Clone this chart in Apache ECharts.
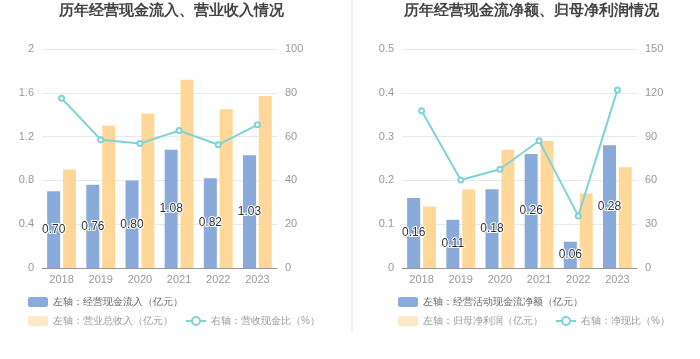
<!DOCTYPE html>
<html><head><meta charset="utf-8">
<script src="https://cdn.jsdelivr.net/npm/echarts@6/dist/echarts.min.js"></script>
<style>html,body{margin:0;padding:0;background:#fff}#c{width:700px;height:359px}</style>
</head><body><div id="c"></div>
<script>
var years = ['2018','2019','2020','2021','2022','2023'];
// chart 1
var cashInflow = [0.70, 0.76, 0.80, 1.08, 0.82, 1.03];
var revenue = [0.90, 1.30, 1.41, 1.72, 1.45, 1.57];
var cashRatio = [77.5, 58.6, 56.8, 62.8, 56.3, 65.4];
// chart 2
var netCash = [0.16, 0.11, 0.18, 0.26, 0.06, 0.28];
var netProfit = [0.14, 0.18, 0.27, 0.29, 0.17, 0.23];
var netRatio = [107.7, 60.3, 67.6, 87.2, 35.7, 122.0];

var title1 = '历年经营现金流入、营业收入情况';
var title2 = '历年经营现金流净额、归母净利润情况';
var names1 = ['左轴：经营现金流入（亿元）', '左轴：营业总收入（亿元）', '右轴：营收现金比（%）'];
var names2 = ['左轴：经营活动现金流净额（亿元）', '左轴：归母净利润（亿元）', '右轴：净现比（%）'];

var BLUE = '#8aabda', ORANGE = '#ffd899', ORANGE_L = '#ffe8c8', TEAL = '#7fd3d7';
var font = 'sans-serif';

function yAxis(grid, min, max, interval, right) {
  return {
    type: 'value', gridIndex: grid, min: min, max: max, interval: interval,
    position: right ? 'right' : 'left',
    axisLine: {show: false}, axisTick: {show: false},
    axisLabel: {color: '#999', fontSize: 11, margin: 8},
    splitLine: {show: !right, lineStyle: {color: '#e6e9f2'}}
  };
}
function xAxis(grid) {
  return {
    type: 'category', gridIndex: grid, data: years,
    axisLine: {lineStyle: {color: '#999'}},
    axisTick: {alignWithLabel: true, length: 4, lineStyle: {color: '#999'}},
    axisLabel: {color: '#999', fontSize: 11, margin: 6}
  };
}
var lbl = {show: true, position: 'inside', color: '#333', fontSize: 12,
  textBorderColor: '#fff', textBorderWidth: 2,
  formatter: function (p) { return p.value.toFixed(2); }};

function legendRows(left, names) {
  return [
    {left: left, top: 297, padding: 0, itemWidth: 20, itemHeight: 10, itemGap: 12,
     textStyle: {color: '#666', fontSize: 10},
     data: [{name: names[0], itemStyle: {color: BLUE}}]},
    {left: left, top: 316, padding: 0, itemWidth: 20, itemHeight: 10, itemGap: 12,
     textStyle: {color: '#999', fontSize: 10},
     data: [{name: names[1], itemStyle: {color: ORANGE_L}}, {name: names[2]}]}
  ];
}

var option = {
  animation: false,
  textStyle: {fontFamily: font},
  title: [
    {text: title1, left: 59, top: 3, padding: 0, textStyle: {fontSize: 15, fontWeight: 'bold', color: '#444'}},
    {text: title2, left: 404, top: 3, padding: 0, textStyle: {fontSize: 15, fontWeight: 'bold', color: '#444'}}
  ],
  graphic: [{type: 'line', shape: {x1: 352, y1: 0, x2: 352, y2: 333}, style: {stroke: '#f2f2f2', lineWidth: 2}}],
  legend: legendRows(28, names1).concat(legendRows(398, names2)),
  grid: [
    {left: 42, width: 235, top: 49, height: 219},
    {left: 402, width: 235, top: 49, height: 219}
  ],
  xAxis: [xAxis(0), xAxis(1)],
  yAxis: [yAxis(0, 0, 2, 0.4, false), yAxis(0, 0, 100, 20, true),
          yAxis(1, 0, 0.5, 0.1, false), yAxis(1, 0, 150, 30, true)],
  series: [
    {name: names1[0], type: 'bar', xAxisIndex: 0, yAxisIndex: 0, data: cashInflow, barWidth: 13, barGap: '22%', itemStyle: {color: BLUE}, label: lbl},
    {name: names1[1], type: 'bar', xAxisIndex: 0, yAxisIndex: 0, data: revenue, barWidth: 13, barGap: '22%', itemStyle: {color: ORANGE}},
    {name: names1[2], type: 'line', xAxisIndex: 0, yAxisIndex: 1, data: cashRatio, symbol: 'emptyCircle', symbolSize: 5, itemStyle: {color: TEAL}, lineStyle: {color: TEAL, width: 2}},
    {name: names2[0], type: 'bar', xAxisIndex: 1, yAxisIndex: 2, data: netCash, barWidth: 13, barGap: '22%', itemStyle: {color: BLUE}, label: lbl},
    {name: names2[1], type: 'bar', xAxisIndex: 1, yAxisIndex: 2, data: netProfit, barWidth: 13, barGap: '22%', itemStyle: {color: ORANGE}},
    {name: names2[2], type: 'line', xAxisIndex: 1, yAxisIndex: 3, data: netRatio, symbol: 'emptyCircle', symbolSize: 5, itemStyle: {color: TEAL}, lineStyle: {color: TEAL, width: 2}}
  ]
};
var chart = echarts.init(document.getElementById('c'), null, {renderer: 'canvas'});
chart.setOption(option);
</script></body></html>
